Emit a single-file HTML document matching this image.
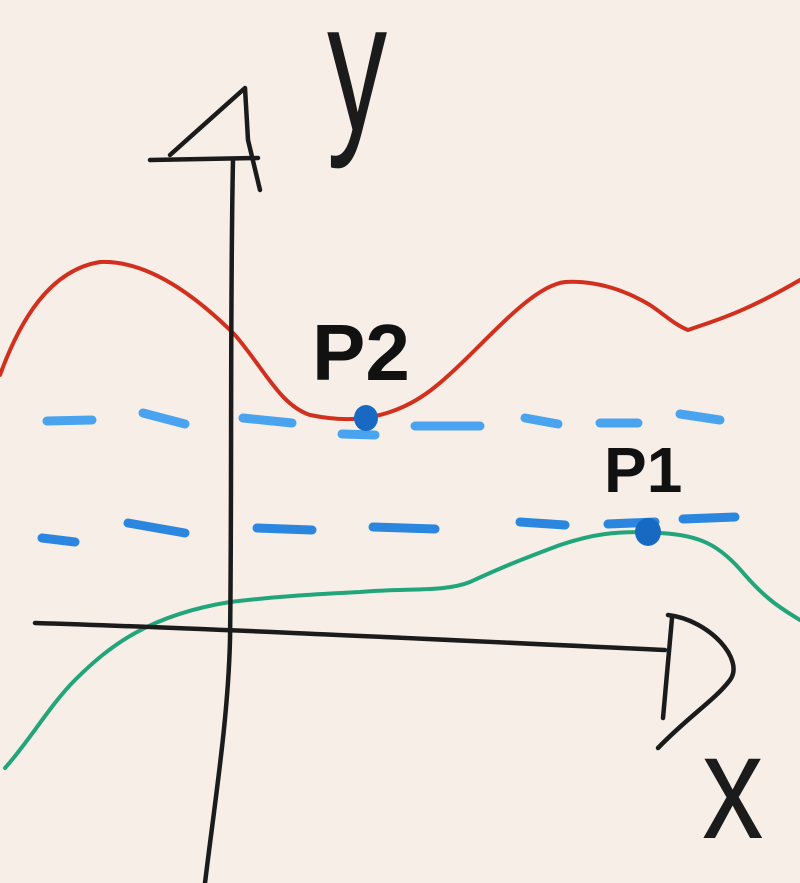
<!DOCTYPE html>
<html><head><meta charset="utf-8"><style>
html,body{margin:0;padding:0;background:#f6eee7;}
svg{display:block}
text{font-family:"Liberation Sans",sans-serif;}
</style></head><body>
<svg width="800" height="883" viewBox="0 0 800 883" xmlns="http://www.w3.org/2000/svg">
<rect width="800" height="883" fill="#f6eee7"/>
<g fill="none" stroke-linecap="round" stroke-linejoin="round">
<path d="M0,375 C20,320 50,270 100,262 C150,260 200,300 235,335 C265,370 280,405 310,415 C335,420 360,422 390,412 C420,402 440,385 475,350 C510,315 540,285 565,282 C595,280 625,290 650,305 C665,315 675,325 688,330 C710,322 740,315 800,280" stroke="#d2301f" stroke-width="4"/>
<path d="M5,768 C30,740 50,705 75,680 C110,645 150,615 230,602 C280,596 320,594 360,592 C410,588 445,592 470,582 C500,568 520,560 560,545 C590,535 615,530 660,533 C700,535 720,545 745,575 C765,598 780,608 800,620" stroke="#22a57a" stroke-width="4"/>
<g stroke="#4aa3ef" stroke-width="9">
<path d="M47,421 L92,420"/><path d="M143,413 L185,424"/><path d="M243,418 L292,423"/><path d="M342,434 L375,435"/><path d="M415,426 L480,426"/><path d="M525,418 L558,424"/><path d="M600,423 L638,423"/><path d="M680,414 L720,420"/>
</g>
<g stroke="#2a86df" stroke-width="9">
<path d="M42,538 L75,542"/><path d="M128,523 L185,533"/><path d="M257,528 L312,530"/><path d="M373,527 L435,529"/><path d="M520,522 L565,525"/><path d="M608,524 L655,522"/><path d="M683,519 L735,517"/>
</g>
<g stroke="#1b1b1b" stroke-width="4.5">
<path d="M233,160 C230,300 232,500 230,640 C228,720 215,800 205,883"/>
<path d="M150,160 L258,158"/>
<path d="M170,155 L245,88 L248,140 L260,190"/>
<path d="M35,623 C200,628 450,640 665,650"/>
<path d="M672,618 L663,718"/>
<path d="M668,615 C710,620 745,660 730,680 C715,700 690,715 658,748"/>
</g>
</g>
<ellipse cx="366" cy="418" rx="12" ry="13" fill="#1769c2"/>
<ellipse cx="648" cy="532" rx="13" ry="14" fill="#1769c2"/>
<text transform="translate(327,130) scale(0.65,1)" font-size="185" fill="#1b1b1b">y</text>
<text transform="translate(702,838) scale(0.82,1)" font-size="150" fill="#1b1b1b">x</text>
<text x="312" y="380" font-size="80" font-weight="bold" fill="#111">P2</text>
<text x="604" y="492" font-size="64" font-weight="bold" fill="#111">P1</text>
</svg>
</body></html>
